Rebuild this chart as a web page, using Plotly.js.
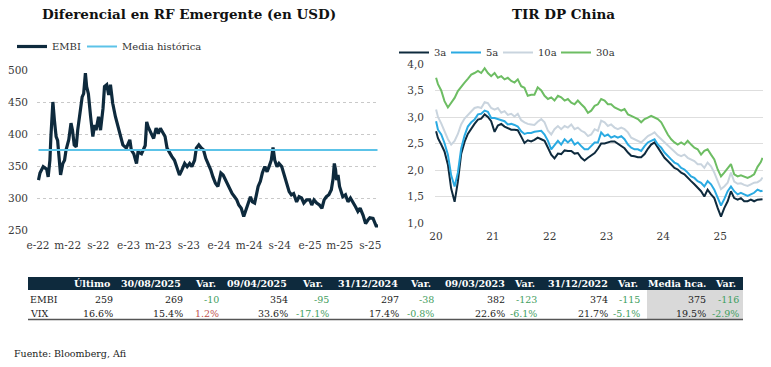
<!DOCTYPE html>
<html><head><meta charset="utf-8">
<script src="https://cdn.plot.ly/plotly-3.0.1.min.js"></script>
<style>html,body{margin:0;padding:0;background:#fff;}#chart{width:771px;height:367px;}</style>
</head><body><div id="chart"></div>
<script>
// ---------------- DATA ----------------
const embiDates = ['2022-01-03','2022-01-09','2022-01-22','2022-02-05','2022-02-11','2022-02-18','2022-02-22','2022-03-02','2022-03-08','2022-03-15','2022-03-21','2022-03-28','2022-04-02','2022-04-11','2022-04-18','2022-04-24','2022-05-05','2022-05-14','2022-05-20','2022-05-27','2022-06-04','2022-06-10','2022-06-17','2022-06-28','2022-07-04','2022-07-11','2022-07-16','2022-07-23','2022-08-01','2022-08-10','2022-08-17','2022-08-23','2022-09-02','2022-09-10','2022-09-20','2022-09-26','2022-10-05','2022-10-13','2022-10-20','2022-10-29','2022-11-09','2022-11-19','2022-11-29','2022-12-09','2022-12-23','2023-01-06','2023-01-12','2023-01-22','2023-02-02','2023-02-08','2023-02-22','2023-03-09','2023-03-15','2023-03-21','2023-04-02','2023-04-12','2023-04-22','2023-05-01','2023-05-09','2023-05-18','2023-05-28','2023-06-05','2023-06-15','2023-06-24','2023-07-05','2023-07-15','2023-07-25','2023-08-04','2023-08-15','2023-08-25','2023-09-04','2023-09-13','2023-09-24','2023-10-01','2023-10-11','2023-10-21','2023-10-30','2023-11-08','2023-11-17','2023-11-28','2023-12-07','2023-12-17','2023-12-27','2024-01-08','2024-01-17','2024-01-23','2024-02-04','2024-02-13','2024-02-22','2024-03-03','2024-03-12','2024-03-20','2024-03-30','2024-04-09','2024-04-17','2024-04-26','2024-05-06','2024-05-14','2024-05-23','2024-05-30','2024-06-06','2024-06-15','2024-06-23','2024-07-03','2024-07-12','2024-07-20','2024-07-29','2024-08-05','2024-08-12','2024-08-21','2024-08-29','2024-09-09','2024-09-18','2024-09-28','2024-10-09','2024-10-18','2024-10-27','2024-11-08','2024-11-18','2024-11-28','2024-12-07','2024-12-18','2024-12-31','2025-01-08','2025-01-17','2025-01-28','2025-02-08','2025-02-18','2025-02-27','2025-03-08','2025-03-18','2025-03-28','2025-04-04','2025-04-09','2025-04-14','2025-04-18','2025-04-24','2025-04-30','2025-05-13','2025-05-24','2025-06-03','2025-06-13','2025-06-23','2025-07-04','2025-07-13','2025-07-22','2025-08-03','2025-08-13','2025-08-23','2025-08-30','2025-09-12','2025-09-19','2025-09-26','2025-09-30'];
const embiValues = [328,339,349,345,333,359,396,450,422,396,390,349,336,354,359,375,391,417,406,383,380,406,424,458,463,495,474,463,427,396,414,406,427,406,440,474,477,461,477,448,427,411,396,383,378,391,375,369,354,372,369,382,419,411,401,393,409,401,409,403,396,378,370,365,359,349,336,344,354,349,354,349,359,378,383,378,375,362,354,344,333,323,318,339,336,331,323,315,307,302,297,289,284,271,281,292,302,294,292,305,318,326,339,349,341,349,359,379,359,349,354,349,336,323,310,305,307,294,302,300,292,297,297,289,297,292,289,284,297,302,305,313,330,354,344,328,336,318,302,305,294,300,292,286,279,284,273,260,266,269,268,260,255,259];
const mediaHistorica = 375;

const embiTickDates = ['2022-01-01','2022-05-01','2022-09-01','2023-01-01','2023-05-01','2023-09-01','2024-01-01','2024-05-01','2024-09-01','2025-01-01','2025-05-01','2025-09-01'];
const embiTickText  = ['e-22','m-22','s-22','e-23','m-23','s-23','e-24','m-24','s-24','e-25','m-25','s-25'];

const chinaDates = ['2020-01-02','2020-01-14','2020-02-04','2020-02-25','2020-03-18','2020-04-08','2020-04-30','2020-05-21','2020-06-11','2020-07-03','2020-07-24','2020-08-15','2020-09-05','2020-09-27','2020-10-18','2020-11-09','2020-11-30','2020-12-21','2021-01-12','2021-02-02','2021-02-24','2021-03-17','2021-04-07','2021-04-29','2021-05-20','2021-06-10','2021-07-02','2021-07-23','2021-08-13','2021-09-04','2021-09-25','2021-10-16',
 '2021-11-08','2021-11-29','2021-12-21','2022-01-11','2022-02-01','2022-02-23','2022-03-16','2022-04-07','2022-04-28','2022-05-20','2022-06-10','2022-07-01','2022-07-23','2022-08-13','2022-09-04','2022-09-25','2022-10-17','2022-11-07','2022-11-28','2022-12-20','2023-01-10','2023-01-31','2023-02-22','2023-03-15','2023-04-06','2023-04-27','2023-05-19','2023-06-09','2023-06-30','2023-07-22','2023-08-12','2023-09-03','2023-09-24',
 '2023-10-15','2023-11-06','2023-11-27','2023-12-19','2024-01-09','2024-01-30','2024-02-21','2024-03-13','2024-04-03','2024-04-25','2024-05-16','2024-06-06','2024-06-28','2024-07-19','2024-08-09','2024-08-31','2024-09-21','2024-10-12','2024-11-03','2024-11-24','2024-12-16','2025-01-06','2025-01-27','2025-02-18','2025-03-11','2025-04-01','2025-04-23','2025-05-14','2025-06-04','2025-06-26','2025-07-17','2025-08-07','2025-08-29','2025-09-19','2025-09-30'];
const tir3a = [2.73,2.60,2.48,2.35,2.10,1.65,1.40,1.78,2.30,2.53,2.68,2.79,2.87,2.95,2.97,3.05,3.00,2.92,2.72,2.84,2.87,2.82,2.79,2.76,2.76,2.75,2.63,2.51,2.56,2.54,2.57,2.61,
 2.58,2.55,2.42,2.29,2.22,2.31,2.30,2.37,2.36,2.36,2.31,2.32,2.23,2.18,2.23,2.28,2.32,2.40,2.50,2.50,2.52,2.54,2.54,2.50,2.46,2.41,2.33,2.27,2.26,2.24,2.24,2.30,2.40,
 2.48,2.52,2.42,2.33,2.23,2.17,2.11,2.04,2.01,1.95,1.92,1.85,1.79,1.73,1.66,1.60,1.50,1.63,1.54,1.47,1.28,1.12,1.28,1.41,1.60,1.47,1.44,1.47,1.41,1.41,1.44,1.41,1.44,1.44,1.45];
const tir5a = [2.92,2.76,2.67,2.51,2.29,1.90,1.69,1.95,2.40,2.65,2.82,2.90,2.95,3.05,3.06,3.12,3.10,2.98,2.98,2.96,2.95,2.92,2.86,2.87,2.85,2.82,2.73,2.68,2.70,2.70,2.72,2.73,
 2.74,2.67,2.55,2.39,2.48,2.55,2.48,2.58,2.52,2.58,2.48,2.52,2.45,2.39,2.39,2.45,2.52,2.52,2.71,2.64,2.67,2.61,2.64,2.61,2.64,2.58,2.48,2.42,2.39,2.39,2.36,2.45,2.52,
 2.55,2.58,2.48,2.42,2.33,2.26,2.20,2.14,2.11,2.04,2.01,1.95,1.88,1.85,1.79,1.76,1.69,1.79,1.73,1.63,1.47,1.33,1.45,1.60,1.69,1.60,1.54,1.57,1.54,1.51,1.54,1.57,1.63,1.60,1.61];
const tir10a = [3.14,3.00,2.88,2.72,2.58,2.48,2.55,2.68,2.86,2.97,3.03,3.11,3.17,3.19,3.17,3.28,3.26,3.17,3.14,3.17,3.08,3.11,3.04,3.06,3.01,3.06,2.94,2.90,2.87,2.86,2.85,2.91,
 2.96,2.90,2.74,2.67,2.77,2.83,2.77,2.83,2.80,2.86,2.77,2.80,2.74,2.71,2.64,2.67,2.77,2.74,2.93,2.90,2.83,2.86,2.80,2.77,2.80,2.77,2.71,2.61,2.58,2.55,2.52,2.58,2.64,
 2.67,2.71,2.64,2.58,2.52,2.45,2.39,2.33,2.29,2.26,2.29,2.23,2.20,2.17,2.11,2.11,2.04,2.14,2.07,1.95,1.79,1.64,1.69,1.76,1.95,1.78,1.74,1.75,1.72,1.70,1.73,1.76,1.77,1.81,1.86];
const tir30a = [3.74,3.62,3.50,3.30,3.18,3.28,3.36,3.49,3.58,3.65,3.72,3.80,3.83,3.87,3.83,3.92,3.83,3.77,3.83,3.74,3.77,3.71,3.74,3.68,3.65,3.71,3.58,3.55,3.40,3.42,3.42,3.56,
 3.50,3.40,3.34,3.37,3.31,3.40,3.37,3.31,3.34,3.27,3.24,3.31,3.24,3.18,3.08,3.12,3.21,3.24,3.34,3.31,3.24,3.24,3.18,3.15,3.12,3.15,3.05,3.02,2.99,2.96,2.90,2.96,2.99,
 3.02,2.99,2.96,2.90,2.77,2.67,2.58,2.52,2.48,2.52,2.48,2.55,2.48,2.42,2.39,2.29,2.36,2.39,2.29,2.20,2.01,1.88,1.95,2.04,2.11,1.92,1.88,1.90,1.87,1.85,1.88,1.92,2.06,2.15,2.23];

const chinaTickDates = ['2020-01-01','2021-01-01','2022-01-01','2023-01-01','2024-01-01','2025-01-01'];
const chinaTickText  = ['20','21','22','23','24','25'];

const tableHeader = ['Último','30/08/2025','Var.','09/04/2025','Var.','31/12/2024','Var.','09/03/2023','Var.','31/12/2022','Var.','Media hca.','Var.'];
const rowLabels = ['EMBI','VIX'];
const rowEMBI = ['259','269','-10','354','-95','297','-38','382','-123','374','-115','375','-116'];
const rowVIX  = ['16.6%','15.4%','1.2%','33.6%','-17.1%','17.4%','-0.8%','22.6%','-6.1%','21.7%','-5.1%','19.5%','-2.9%'];
const source = 'Fuente: Bloomberg, Afi';

// ---------------- LAYOUT HELPERS ----------------
const W = 771, H = 367;
const px = x => x / W;
const py = y => 1 - y / H;
const FONT = 'DejaVu Serif';
const NAVY = '#0e2a3d';

const traces = [
  {x: embiDates, y: embiValues, name: 'EMBI', type: 'scatter', mode: 'lines',
   line: {color: NAVY, width: 3.2}, xaxis: 'x', yaxis: 'y', legend: 'legend', legendwidth: 25},
  {x: [embiDates[0], embiDates[embiDates.length - 1]], y: [mediaHistorica, mediaHistorica],
   name: 'Media histórica', type: 'scatter', mode: 'lines',
   line: {color: '#5cc3e8', width: 2}, xaxis: 'x', yaxis: 'y', legend: 'legend'},
  {x: chinaDates, y: tir3a, name: '3a', type: 'scatter', mode: 'lines',
   line: {color: NAVY, width: 2}, xaxis: 'x2', yaxis: 'y2', legend: 'legend2', legendwidth: 7},
  {x: chinaDates, y: tir5a, name: '5a', type: 'scatter', mode: 'lines',
   line: {color: '#2aaae2', width: 2}, xaxis: 'x2', yaxis: 'y2', legend: 'legend2', legendwidth: 7},
  {x: chinaDates, y: tir10a, name: '10a', type: 'scatter', mode: 'lines',
   line: {color: '#c9d4de', width: 2}, xaxis: 'x2', yaxis: 'y2', legend: 'legend2', legendwidth: 13},
  {x: chinaDates, y: tir30a, name: '30a', type: 'scatter', mode: 'lines',
   line: {color: '#6dbd63', width: 2}, xaxis: 'x2', yaxis: 'y2', legend: 'legend2', legendwidth: 22}
];

const tickFont = {family: FONT, size: 10.5, color: '#3a3a3a'};

// table geometry (layout only)
const colRight = [115,185,221,290,331,401,436,507,539,610,642,708,741];
const headRight = [112,183,218,289,325,400,433,507,537,610,640,708,738];
const headY = 283.5, rowY = [299, 313];

const annotations = [
  {text: '<b>Diferencial en RF Emergente (en USD)</b>', x: px(189), y: py(14), xref: 'paper', yref: 'paper',
   xanchor: 'center', yanchor: 'middle', showarrow: false, font: {family: FONT, size: 13.5, color: '#111'}},
  {text: '<b>TIR DP China</b>', x: px(563), y: py(14), xref: 'paper', yref: 'paper',
   xanchor: 'center', yanchor: 'middle', showarrow: false, font: {family: FONT, size: 13.5, color: '#111'}},
  {text: source, x: px(12), y: py(353), xref: 'paper', yref: 'paper', xanchor: 'left', yanchor: 'middle',
   showarrow: false, font: {family: FONT, size: 9.5, color: '#222'}}
];
tableHeader.forEach((t, i) => annotations.push({
  text: '<b>' + t + '</b>', x: px(headRight[i]), y: py(headY), xref: 'paper', yref: 'paper',
  xanchor: 'right', yanchor: 'middle', showarrow: false, font: {family: FONT, size: 9.5, color: '#fff'}
}));
[rowEMBI, rowVIX].forEach((row, r) => {
  annotations.push({text: rowLabels[r], x: px(28), y: py(rowY[r]), xref: 'paper', yref: 'paper',
    xanchor: 'left', yanchor: 'middle', showarrow: false, font: {family: FONT, size: 9.5, color: '#222'}});
  row.forEach((v, i) => {
    const isVar = tableHeader[i] === 'Var.';
    const color = isVar ? (v.charAt(0) === '-' ? '#3f9e5e' : '#c0504d') : '#222';
    annotations.push({text: v, x: px(colRight[i]), y: py(rowY[r]), xref: 'paper', yref: 'paper',
      xanchor: 'right', yanchor: 'middle', showarrow: false, font: {family: FONT, size: 9.5, color: color}});
  });
});

const shapes = [
  {type: 'rect', xref: 'paper', yref: 'paper', x0: px(28), x1: px(743), y0: py(290), y1: py(277),
   fillcolor: NAVY, line: {width: 0}, layer: 'below'},
  {type: 'rect', xref: 'paper', yref: 'paper', x0: px(647), x1: px(743), y0: py(319), y1: py(290),
   fillcolor: '#d9d9d9', line: {width: 0}, layer: 'below'},
  {type: 'line', xref: 'paper', yref: 'paper', x0: px(28), x1: px(743), y0: py(319.5), y1: py(319.5),
   line: {color: '#555', width: 1.5}}
];

const legendFont = {family: FONT, size: 10, color: '#333'};

const layout = {
  width: W, height: H, margin: {l: 0, r: 0, t: 0, b: 0},
  paper_bgcolor: '#fff', plot_bgcolor: '#fff',
  separators: ',.',
  font: {family: FONT, size: 10.5, color: '#404040'},
  showlegend: true,
  xaxis: {domain: [px(37), px(378)], anchor: 'y', type: 'date', range: ['2021-12-28', '2025-10-02'],
    tickmode: 'array', tickvals: embiTickDates, ticktext: embiTickText, showgrid: false, zeroline: false,
    showline: false, ticks: '', ticklabelstandoff: 7, tickfont: tickFont, fixedrange: true},
  yaxis: {domain: [py(230), py(70)], anchor: 'x', range: [250, 500], dtick: 50, tick0: 0,
    showgrid: true, gridcolor: '#c9c9c9', griddash: 'dot', gridwidth: 1, zeroline: false,
    showline: false, ticks: '', ticklabelstandoff: 8, tickfont: tickFont, fixedrange: true},
  xaxis2: {domain: [px(435), px(763)], anchor: 'y2', type: 'date', range: ['2019-12-26', '2025-10-03'],
    tickmode: 'array', tickvals: chinaTickDates, ticktext: chinaTickText, showgrid: false, zeroline: false,
    showline: false, ticks: '', ticklabelstandoff: 5, tickfont: tickFont, fixedrange: true},
  yaxis2: {domain: [py(223), py(64)], anchor: 'x2', range: [1, 4], dtick: 0.5, tick0: 0, tickformat: '.1f',
    showgrid: true, gridcolor: '#dedede', gridwidth: 1, zeroline: false, showline: false, ticks: '',
    ticklabelstandoff: 10, tickfont: tickFont, fixedrange: true},
  legend: {x: px(12), y: py(32), xanchor: 'left', yanchor: 'top', orientation: 'h',
    bgcolor: 'rgba(0,0,0,0)', font: legendFont, itemwidth: 30},
  legend2: {x: px(394), y: py(38), xanchor: 'left', yanchor: 'top', orientation: 'h',
    bgcolor: 'rgba(0,0,0,0)', font: legendFont, itemwidth: 30},
  annotations: annotations,
  shapes: shapes
};

Plotly.newPlot('chart', traces, layout, {staticPlot: true, displayModeBar: false});
</script>
</body></html>
